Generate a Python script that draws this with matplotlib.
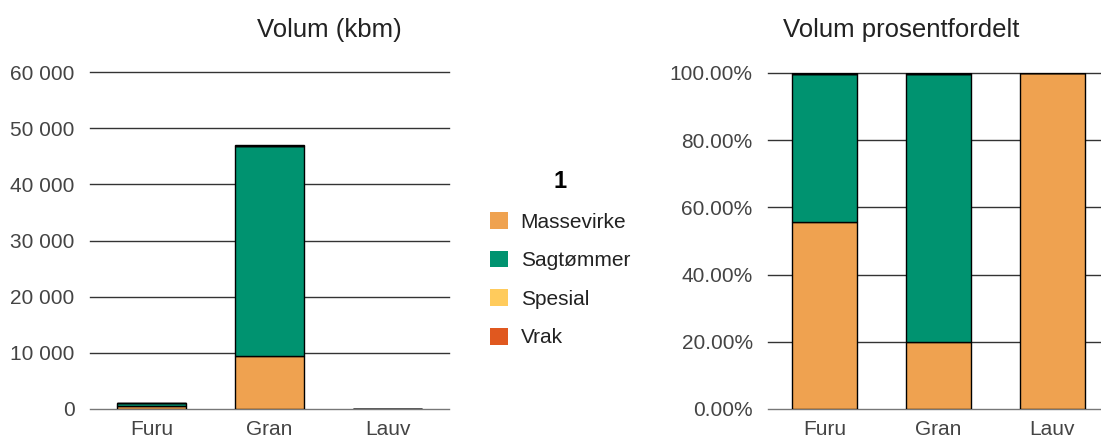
import numpy as np
import matplotlib.pyplot as plt
from matplotlib.patches import Patch

plt.rcParams['font.family'] = ['Liberation Sans', 'DejaVu Sans']

species = ['Furu', 'Gran', 'Lauv']
assortments = ['Massevirke', 'Sagtømmer', 'Spesial', 'Vrak']
colors = ['#EFA250', '#009370', '#FFCB5C', '#E0581F']

# volume in kbm per species
massevirke = [555, 9350, 3]
sagtommer = [440, 37500, 0]
spesial = [0, 60, 0]
vrak = [4, 150, 0]
volumes = [massevirke, sagtommer, spesial, vrak]

yticks_left = [0, 10000, 20000, 30000, 40000, 50000, 60000]
yticklabels_left = ['0', '10 000', '20 000', '30 000', '40 000', '50 000', '60 000']
yticks_right = [0, 20, 40, 60, 80, 100]
yticklabels_right = ['0.00%', '20.00%', '40.00%', '60.00%', '80.00%', '100.00%']

W, H = 1101, 445
fig = plt.figure(figsize=(W / 100, H / 100), dpi=100)

def px_axes(x0, x1, y_top, y_bot):
    return fig.add_axes([x0 / W, (H - y_bot) / H, (x1 - x0) / W, (y_bot - y_top) / H])

ax1 = px_axes(90, 449, 72, 409)
ax2 = px_axes(768, 1101, 73, 409)

x = np.arange(len(species))

# left: absolute volume
bottom = np.zeros(len(species))
for vals, c in zip(volumes, colors):
    ax1.bar(x, vals, 0.58, bottom=bottom, color=c, edgecolor='black', linewidth=1, zorder=3)
    bottom += np.array(vals)

# right: percent share
totals = np.sum(volumes, axis=0)
bottom = np.zeros(len(species))
for vals, c in zip(volumes, colors):
    pct = np.array(vals) / totals * 100
    ax2.bar(x, pct, 0.57, bottom=bottom, color=c, edgecolor='black', linewidth=1, zorder=3)
    bottom += pct

for ax in (ax1, ax2):
    for s in ax.spines.values():
        s.set_visible(False)
    ax.tick_params(length=0, labelsize=15, labelcolor='#444444')
    ax.tick_params(axis='y', pad=11)
    ax.tick_params(axis='x', pad=8)
    ax.set_xticks(x)
    ax.set_xticklabels(species)

ax1.set_xlim(-0.52, 2.52)
ax1.set_ylim(0, 60000)
ax1.set_yticks(yticks_left)
ax1.set_yticklabels(yticklabels_left)
for t in yticks_left:
    ax1.axhline(t, color='#333333' if t else '#777777', linewidth=1, zorder=1, clip_on=False)

ax2.set_xlim(-0.5, 2.43)
ax2.set_ylim(0, 100)
ax2.set_yticks(yticks_right)
ax2.set_yticklabels(yticklabels_right)
for t in yticks_right:
    ax2.axhline(t, color='#333333' if t else '#777777', linewidth=1, zorder=1, clip_on=False)

fig.text(257 / W, 1 - 30 / H, 'Volum (kbm)', fontsize=18.5, color='#222222', va='center', ha='left')
fig.text(783 / W, 1 - 30 / H, 'Volum prosentfordelt', fontsize=18.5, color='#222222', va='center', ha='left')

handles = [Patch(facecolor=c, edgecolor='none') for c in colors]
leg = fig.legend(handles, assortments, title='1', loc='upper left',
                 bbox_to_anchor=(490 / W, 1 - 170 / H), frameon=False,
                 borderpad=0, borderaxespad=0,
                 fontsize=15, handlelength=0.87, handleheight=0.87,
                 labelspacing=0.91, handletextpad=0.6)
leg.get_title().set_fontweight('bold')
leg.get_title().set_fontsize(17)
for t in leg.get_texts():
    t.set_color('#222222')

fig.savefig('out.png', dpi=100)
